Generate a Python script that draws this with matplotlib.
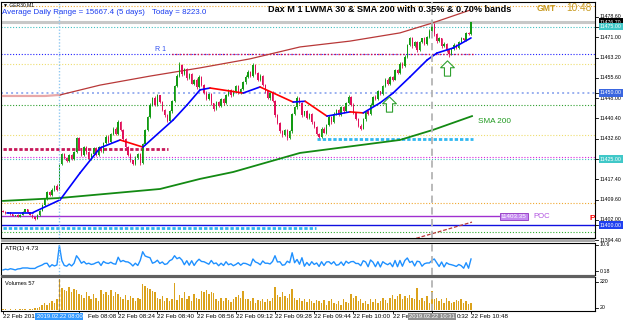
import numpy as np
import matplotlib
matplotlib.use('Agg')
import matplotlib.pyplot as plt
import matplotlib.transforms as mtransforms
from matplotlib.path import Path

plt.rcParams['font.family'] = ['Liberation Sans', 'DejaVu Sans']

# M1 bars, bar 23 = 08:00, bar 191 = 10:48
closes = [
    11405.2, 11404.6, 11405.0, 11404.2, 11403.6, 11403.9, 11403.2, 11404.0, 11405.1, 11406.0,
    11404.9, 11404.0, 11403.1, 11402.5, 11403.8, 11405.5, 11407.5, 11410.0, 11412.5, 11411.5,
    11413.5, 11415.0, 11413.5, 11423.3, 11426.8, 11425.5, 11424.3, 11426.5, 11425.2, 11427.5,
    11433.0, 11429.0, 11426.5, 11429.5, 11427.5, 11425.0, 11427.0, 11429.0, 11426.5, 11429.5,
    11428.0, 11431.0, 11433.5, 11431.5, 11434.5, 11436.5, 11434.5, 11439.0, 11436.0, 11432.5,
    11429.5, 11426.5, 11424.5, 11423.0, 11425.5, 11427.0, 11423.5, 11430.5, 11436.0, 11441.0,
    11445.5, 11448.0, 11445.5, 11449.0, 11446.5, 11443.5, 11441.5, 11439.5, 11443.0, 11447.0,
    11452.5, 11456.5, 11460.5, 11457.0, 11459.0, 11455.5, 11457.0, 11453.5, 11455.0, 11452.0,
    11456.0, 11453.0, 11450.0, 11447.5, 11449.5, 11446.0, 11444.0, 11446.5, 11445.0, 11447.5,
    11446.0, 11449.0, 11451.0, 11449.0, 11450.5, 11452.5, 11450.0, 11451.5, 11454.0, 11456.0,
    11458.0, 11456.5, 11460.5, 11457.5, 11455.0, 11456.5, 11453.0, 11450.5, 11448.0, 11450.0,
    11447.0, 11441.5, 11438.5, 11435.5, 11434.0, 11436.0, 11433.0, 11435.5, 11442.0, 11444.5,
    11448.0, 11446.0, 11441.5, 11443.0, 11440.5, 11442.0, 11439.0, 11437.0, 11434.5, 11433.5,
    11436.5, 11435.0, 11438.0, 11441.0, 11439.0, 11442.0, 11443.5, 11441.5, 11444.5, 11443.0,
    11446.0, 11448.5, 11445.5, 11442.5, 11440.0, 11437.5, 11436.5, 11440.0, 11443.0, 11442.0,
    11445.5, 11448.5, 11447.5, 11450.5, 11449.5, 11452.5, 11455.0, 11453.5, 11456.0, 11455.0,
    11458.5, 11457.5, 11461.0, 11460.0, 11463.5, 11468.0, 11470.5, 11467.5, 11469.0, 11466.0,
    11469.0, 11470.5, 11468.5, 11471.0, 11473.5, 11476.0, 11472.0, 11469.5, 11470.5, 11467.5,
    11468.5, 11466.0, 11464.5, 11466.5, 11468.0, 11467.0, 11469.0, 11470.5, 11470.0, 11472.5,
    11472.0, 11476.7]

wick_up = [
    0.2, 0.1, 0.2, 0.1, 0.2, 0.1, 0.2, 0.1, 0.2, 0.3,
    0.1, 0.2, 0.1, 0.2, 0.3, 0.2, 0.4, 0.3, 0.5, 0.3,
    0.4, 0.3, 0.6, 0.3, 0.5, 0.6, 0.3, 0.5, 0.4, 0.6,
    0.5, 0.4, 0.3, 0.6, 0.4, 0.5, 0.3, 0.4, 0.6, 0.3,
    0.5, 0.4, 0.6, 0.7, 0.3, 0.5, 0.6, 0.8, 0.4, 0.3,
    0.5, 0.3, 0.6, 0.3, 0.5, 0.4, 0.3, 0.5, 0.4, 0.3,
    0.6, 0.5, 0.7, 0.4, 0.3, 0.5, 0.3, 0.5, 0.4, 0.3,
    0.5, 0.6, 1.2, 0.5, 0.4, 0.3, 0.6, 0.5, 0.3, 0.5,
    0.6, 0.5, 0.3, 0.5, 0.6, 0.4, 0.3, 0.5, 0.3, 0.5,
    0.4, 0.6, 0.3, 0.5, 0.5, 0.3, 0.6, 0.4, 0.5, 0.7,
    0.5, 0.3, 0.6, 0.5, 0.4, 0.6, 0.3, 0.3, 0.5, 0.4,
    0.6, 0.3, 0.5, 0.3, 0.5, 0.4, 0.3, 0.6, 0.5, 0.7,
    0.8, 0.5, 0.4, 0.3, 0.6, 0.5, 0.3, 0.5, 0.4, 0.3,
    0.5, 0.6, 0.3, 0.5, 0.4, 0.6, 0.5, 0.3, 0.5, 0.4,
    0.7, 0.5, 0.3, 0.5, 0.4, 0.3, 0.6, 0.5, 0.3, 0.5,
    0.6, 0.4, 0.5, 0.6, 0.3, 0.5, 0.4, 0.7, 0.5, 0.3,
    0.6, 0.4, 0.5, 0.5, 0.6, 0.4, 0.7, 0.5, 0.4, 0.6,
    0.5, 0.3, 0.6, 0.5, 0.6, 1.5, 0.5, 0.4, 0.6, 0.3,
    0.5, 0.4, 0.5, 0.3, 0.6, 0.5, 0.4, 0.5, 0.3, 0.6,
    0.5, 0.2]

wick_dn = [
    0.1, 0.2, 0.1, 0.2, 0.1, 0.2, 0.1, 0.2, 0.1, 0.2,
    0.2, 0.1, 0.2, 0.4, 0.2, 0.3, 0.2, 0.4, 0.3, 0.5,
    0.3, 0.4, 0.5, 0.3, 0.4, 0.5, 0.6, 0.3, 0.5, 0.4,
    0.3, 0.6, 0.5, 0.4, 0.6, 0.3, 0.5, 0.6, 0.4, 0.5,
    0.4, 0.6, 0.3, 0.5, 0.4, 0.6, 0.3, 0.4, 0.5, 0.6,
    0.4, 0.5, 0.6, 0.4, 0.3, 0.5, 0.6, 0.4, 0.3, 0.5,
    0.4, 0.3, 0.5, 0.6, 0.4, 0.3, 0.5, 0.6, 0.4, 0.5,
    0.3, 0.5, 0.4, 0.6, 0.3, 0.5, 0.4, 0.3, 0.6, 0.4,
    0.3, 0.5, 0.6, 0.4, 0.3, 0.5, 0.8, 0.4, 0.5, 0.3,
    0.5, 0.3, 0.4, 0.6, 0.3, 0.5, 0.4, 0.6, 0.3, 0.5,
    0.3, 0.5, 0.4, 0.3, 0.5, 0.6, 0.4, 0.5, 0.3, 0.6,
    0.4, 0.5, 0.3, 0.6, 0.5, 0.3, 0.8, 0.4, 0.5, 0.3,
    0.5, 0.4, 0.6, 0.3, 0.5, 0.4, 0.6, 0.3, 0.5, 0.7,
    0.4, 0.3, 0.5, 0.4, 0.6, 0.3, 0.5, 0.4, 0.3, 0.5,
    0.4, 0.3, 0.6, 0.5, 0.3, 0.4, 0.7, 0.3, 0.5, 0.4,
    0.5, 0.3, 0.4, 0.3, 0.5, 0.4, 0.3, 0.5, 0.4, 0.6,
    0.3, 0.5, 0.4, 0.6, 0.3, 0.5, 0.4, 0.6, 0.3, 0.5,
    0.4, 0.3, 0.5, 0.4, 0.3, 0.4, 0.5, 0.6, 0.4, 0.5,
    0.3, 0.6, 0.9, 0.4, 0.3, 0.5, 0.4, 0.3, 0.5, 0.4,
    0.3, 0.1]

volumes = [
    8, 12, 6, 10, 5, 9, 7, 11, 14, 10,
    6, 8, 12, 18, 22, 30, 45, 55, 40, 60,
    70, 55, 85, 245, 175, 160, 150, 180, 140, 165,
    155, 130, 120, 95, 140, 110, 85, 125, 100, 75,
    160, 130, 145, 120, 155, 110, 140, 125, 105, 90,
    120, 80, 115, 95, 70, 100, 85, 205, 185, 170,
    165, 150, 140, 100, 85, 110, 75, 95, 70, 90,
    213, 80, 120, 95, 140, 85, 110, 75, 130, 100,
    90, 150, 140, 160, 125, 145, 135, 90, 75, 100,
    70, 95, 80, 65, 85, 105, 120, 100, 150, 90,
    85, 70, 95, 60, 80, 75, 90, 65, 85, 70,
    100, 180, 120, 105, 140, 110, 95, 130, 165, 100,
    80, 95, 70, 85, 65, 90, 75, 60, 80, 70,
    55, 80, 45, 70, 90, 60, 50, 75, 40, 85,
    65, 55, 125, 95, 110, 70, 85, 60, 75, 50,
    85, 65, 90, 55, 70, 100, 80, 60, 100, 120,
    90, 110, 130, 85, 110, 95, 120, 100, 90, 176,
    80, 95, 70, 110, 60, 150, 90, 100, 75, 85,
    60, 95, 70, 55, 65, 80, 70, 85, 60, 75,
    50, 57]

# indicator lines (bar index, price)
lwma_bars = [1.6, 12.2, 23.3, 31.4, 39.6, 47.8, 57.1, 69.4, 75.1, 80.4, 84.5, 98.0, 104.9,
             118.4, 123.3, 132.2, 141.6, 147.0, 153.9, 159.2, 166.1, 173.1, 177.1, 183.7, 191.0]
lwma_vals = [11404.8, 11404.8, 11409.6, 11419.7, 11429.2, 11432.2, 11429.5, 11439.7, 11445.4,
             11451.1, 11451.8, 11449.9, 11452.2, 11446.5, 11446.8, 11441.2, 11442.8, 11442.4,
             11446.2, 11449.9, 11456.0, 11462.4, 11465.0, 11466.9, 11470.7]
sma_bars = [0, 23.3, 64.1, 80.4, 93.9, 121.2, 162.0, 175.5, 191.4]
sma_vals = [11409.2, 11410.3, 11413.7, 11417.5, 11420.1, 11427.3, 11432.2, 11436.0, 11441.2]
band_up_bars = [0, 17.1, 23.3, 39.6, 60.0, 80.4, 100.8, 121.2, 141.6, 162.0, 175.1, 190.6]
band_up_vals = [11448.8, 11448.8, 11449.2, 11452.9, 11456.3, 11459.4, 11462.8, 11467.3,
                11469.5, 11472.6, 11476.3, 11481.2]
band_dn_bars = [162.0, 191.4]
band_dn_vals = [11393.3, 11401.2]

arrow_bars = [157.6, 181.4]
arrow_vals = [11445.8, 11459.4]

# horizontal levels
top_orange = 11482.7
teal_hi = 11475.0
r1 = 11464.6
yellow_hi = 11460.9
blue_dot = 11450.0
green_hi = 11445.4
yellow_lo = 11433.9
pivot = 11428.8
cyan_hi = 11432.6
magenta = 11425.8
teal_lo = 11425.0
orange_lo = 11408.4
poc = 11403.35
blue_solid = 11400.0
cyan_lo = 11399.0
green_lo = 11397.5

price_ticks = [11478.6, 11471.0, 11463.2, 11455.6, 11448.0, 11440.4, 11432.6,
               11417.4, 11409.6, 11402.0, 11394.4]
# time labels as they show (parts hidden by the crosshair boxes are left out)
time_bars = [0, 31, 47, 63, 79, 95, 111, 127, 143, 159, 175, 191]
time_labels = ['22 Feb 2019', 'Feb 08:08', '22 Feb 08:24', '22 Feb 08:40', '22 Feb 08:56',
               '22 Feb 09:12', '22 Feb 09:28', '22 Feb 09:44', '22 Feb 10:00', '22 Fe',
               '0:32', '22 Feb 10:48']
time_shift = [0, 9, 0, 0, 0, 0, 0, 0, 0, 0, 25, 0]
cross_bars = [23, 175]
cross_labels = ['2019.02.22 08:00', '2019.02.22 10:31']

W, H = 625, 324
fig = plt.figure(figsize=(W / 100, H / 100), dpi=100)
fig.patch.set_facecolor('white')


def add_ax(top, bottom):
    a = fig.add_axes([1 / W, 1 - bottom / H, 594 / W, (bottom - top) / H])
    a.set_xlim(-0.82, 241.6)
    a.set_xticks([])
    a.set_yticks([])
    for s in a.spines.values():
        s.set_linewidth(0.8)
    return a


ax = add_ax(2, 238)
ax.set_ylim(11395.2, 11484.26)
ax_atr = add_ax(243, 275)
ax_atr.set_ylim(-1.42, 11.4)
ax_vol = add_ax(277, 311)
ax_vol.set_ylim(-4, 258)

# panel separators
fig.add_artist(plt.Rectangle((1 / W, 1 - 242 / H), 594 / W, 3 / H, transform=fig.transFigure,
                             color='#a8a8a8', lw=0))
fig.add_artist(plt.Rectangle((1 / W, 1 - 277.5 / H), 594 / W, 2.2 / H, transform=fig.transFigure,
                             color='#606060', lw=0))

dot = (0, (1, 1.6))
full = (-1, 242)


def hline(y, color, lw=0.8, ls=dot, x=full, z=2):
    ax.plot(x, [y, y], color=color, lw=lw, ls=ls, zorder=z)


hline(top_orange, '#f0a830')
hline(closes[-1], '#c8c8c8', lw=2.2, ls='-', z=1)
hline(teal_hi, '#40c0c0')
hline(r1, '#2020ff')
hline(r1, '#e01040', lw=1.0, ls=(1.3, (1, 1.6)), x=(68, 192))
hline(yellow_hi, '#eede70')
hline(blue_dot, '#9ab0f0', lw=1.4)
hline(green_hi, '#30a030')
hline(yellow_lo, '#eede70')
hline(pivot, '#c8185a', lw=2.0, ls=(0, (1.2, 0.7)), x=(0, 67.5))
hline(cyan_hi, '#30b8f0', lw=2.0, ls=(0, (1.2, 0.7)), x=(128.2, 191.8))
hline(magenta, '#e020e0')
hline(teal_lo, '#40c0c0')
hline(orange_lo, '#f0a830')
hline(poc, '#a030d0', lw=1.0, ls='-', x=(-1, 202.4))
hline(blue_solid, '#1010e0', lw=1.0, ls='-')
hline(cyan_lo, '#30b8f0', lw=2.0, ls=(0, (1.2, 0.7)), x=(0, 127.8))
hline(green_lo, '#30b030')

# bands and averages
ax.plot(band_up_bars[:3], band_up_vals[:3], color='#e8a8a8', lw=1.6, zorder=3)
ax.plot(band_up_bars[2:], band_up_vals[2:], color='#b83838', lw=0.9, zorder=3)
ax.plot(band_dn_bars, band_dn_vals, color='#b83838', lw=0.9, ls=(0, (3, 1.5)), zorder=3)
ax.plot(sma_bars, sma_vals, color='#138a13', lw=1.3, zorder=3)

# candles
c = np.array(closes)
o = np.r_[c[0] + 0.3, c[:-1]]
hi = np.maximum(o, c) + np.array(wick_up)
lo = np.minimum(o, c) - np.array(wick_dn)
idx = np.arange(len(c))
col = np.where(c >= o, '#129a12', '#e0105a')
ax.vlines(idx, lo, hi, colors=col, lw=0.6, zorder=4)
ax.bar(idx, np.maximum(np.abs(c - o), 0.25), bottom=np.minimum(o, c), width=0.55,
       color=col, lw=0, zorder=5)

# LWMA coloured by direction
for i in range(len(lwma_bars) - 1):
    rising = lwma_vals[i + 1] >= lwma_vals[i]
    ax.plot(lwma_bars[i:i + 2], lwma_vals[i:i + 2], color='#0000ff' if rising else '#ff0000',
            lw=1.2, zorder=6, solid_capstyle='round')

# signal arrows
arrow = Path([(0, 1), (-0.9, 0.1), (-0.4, 0.1), (-0.4, -1), (0.4, -1), (0.4, 0.1),
              (0.9, 0.1), (0, 1)], closed=True)
ax.plot(arrow_bars, arrow_vals, ls='none', marker=arrow, ms=11, mfc='white', mec='#30a030',
        mew=0.8, zorder=7)

# crosshair lines
for a in (ax, ax_atr):
    a.axvline(cross_bars[0], color='#90c8f0', lw=1.0, ls=(0, (1, 1.3)), zorder=8)
ax_vol.axvline(cross_bars[0], color='#a08850', lw=1.0, ls=(0, (2, 1.5)), zorder=8)
for a in (ax, ax_atr, ax_vol):
    a.axvline(cross_bars[1], color='#b4b4b4', lw=1.3, ls=(0, (4, 2.5)), zorder=8)

# ATR(1) and volumes
atr = hi - lo
ax_atr.plot(idx, atr, color='#1e90ff', lw=1.0)
ax_vol.bar(idx, volumes, width=0.6, color='#dba21c', lw=0)


# right price scale
def right_label(a, val, txt, fc=None, tc='black', size=3.8, tick=True):
    tr = mtransforms.blended_transform_factory(a.transAxes, a.transData)
    if tick:
        a.plot([1, 1 + 3 / 594], [val, val], transform=tr, color='black', lw=0.6, clip_on=False)
    kw = {}
    if fc:
        kw['bbox'] = dict(boxstyle='square,pad=0.25', fc=fc, ec='none')
    a.annotate(txt, xy=(1, val), xycoords=tr, xytext=(5, 0), textcoords='offset pixels',
               va='center', ha='left', fontsize=size, color=tc, annotation_clip=False, **kw)


for v in price_ticks:
    right_label(ax, v, f'{v:.2f}')
right_label(ax, closes[-1], f'{closes[-1]:.2f}', fc='black', tc='white', tick=False)
right_label(ax, teal_hi, f'{teal_hi:.2f}', fc='#40c8c8', tc='white')
right_label(ax, blue_dot, f'{blue_dot:.2f}', fc='#3a66e0', tc='white')
right_label(ax, teal_lo, f'{teal_lo:.2f}', fc='#40c8c8', tc='white')
right_label(ax, blue_solid, f'{blue_solid:.2f}', fc='#2040f0', tc='white')
right_label(ax_atr, 10.6, '10.6')
right_label(ax_atr, 0.18, '0.18')
right_label(ax_vol, 220, '220')
right_label(ax_vol, 20, '20')

# texts in the main window
fig.text(3 / W, 1 - 5 / H, '▼ GER30,M1', fontsize=3.6, va='center', ha='left')
fig.text(2 / W, 1 - 13 / H, 'Average Daily Range = 15667.4 (5 days)', fontsize=5.7,
         color='#1a3cf0', va='center', ha='left')
fig.text(152 / W, 1 - 13 / H, 'Today = 8223.0', fontsize=5.7, color='#1a3cf0',
         va='center', ha='left')
fig.text(268 / W, 1 - 9.5 / H, 'Dax M 1 LWMA 30 & SMA 200 with 0.35% & 0.70% bands',
         fontsize=6.6, fontweight='bold', va='center', ha='left', zorder=10)
fig.text(537 / W, 1 - 8.5 / H, 'GMT', fontsize=6.2, fontweight='bold', color='#c89a20',
         va='center', ha='left')
fig.text(566 / W, 1 - 8 / H, '10:48', fontsize=7.3, color='#c89a20', va='center', ha='left')
fig.text(589 / W, 1 - 219 / H, 'P', fontsize=6, fontweight='bold', color='#ff0000',
         va='center', ha='left')

ax.text(62, r1 + 1.6, 'R 1', fontsize=5, color='#2f4ff0', va='center', ha='left')
ax.text(193.9, 11439.0, 'SMA 200', fontsize=5.9, color='#1f9a1f', va='center', ha='left')
ax.text(203.2, poc, f'{poc:.2f}', fontsize=4.5, color='white', va='center', ha='left',
        bbox=dict(boxstyle='square,pad=0.2', fc='#c48af0', ec='#9030c0', lw=0.6), zorder=9)
ax.text(216.3, poc, 'POC', fontsize=5.5, color='#b050e0', va='center', ha='left')

ax_atr.text(4 / 594, 0.84, 'ATR(1) 4.73', transform=ax_atr.transAxes, fontsize=4.4,
            va='center', ha='left')
ax_vol.text(4 / 594, 0.82, f'Volumes {volumes[-1]}', transform=ax_vol.transAxes,
            fontsize=4.1, va='center', ha='left')

# time scale
tick_tr = mtransforms.blended_transform_factory(ax_vol.transData, ax_vol.transAxes)
for b, t, dx in zip(time_bars, time_labels, time_shift):
    ax_vol.plot([b, b], [0, -0.06], transform=tick_tr, color='black', lw=0.6, clip_on=False)
    ax_vol.annotate(t, xy=(b, 0), xycoords=('data', 'axes fraction'), xytext=(dx, -3),
                    textcoords='offset pixels', fontsize=4.5, va='top', ha='left',
                    annotation_clip=False)
for b, t, fc in zip(cross_bars, cross_labels, ['#3399ff', '#909090']):
    ax_vol.annotate(t, xy=(b, 0), xycoords=('data', 'axes fraction'), xytext=(0, -3),
                    textcoords='offset pixels', fontsize=4.2, va='top', ha='center',
                    color='white', annotation_clip=False, zorder=10,
                    bbox=dict(boxstyle='square,pad=0.2', fc=fc, ec='none'))

fig.savefig('out.png', dpi=100, facecolor='white')
